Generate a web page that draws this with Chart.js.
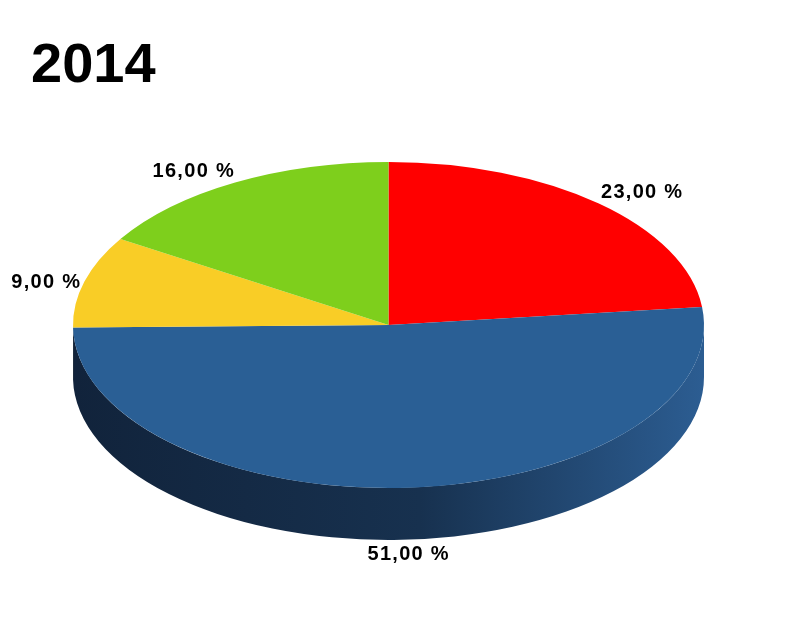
<!DOCTYPE html>
<html>
<head>
<meta charset="utf-8">
<script src="https://cdn.jsdelivr.net/npm/chart.js@4/dist/chart.umd.min.js"></script>
<style>
  body { margin: 0; background: #fff; }
  #wrap { width: 803px; height: 623px; }
</style>
</head>
<body>
<div id="wrap"><canvas id="myChart"></canvas></div>
<script>
const categories = ['Rot', 'Blau', 'Gelb', 'Grün'];
const values = [23, 51, 9, 16];
const colors = ['#ff0000', '#2a5f95', '#f9cd26', '#7ecf1c'];
const sideColors = ['#990000', null, '#a88a18', '#4f8a10'];

// ellipse of the top face and the height of the side wall
const pieX = 388.5, pieY = 325, radX = 315.5, radY = 163, depth = 52;

// -1..1 with a small dead zone round 0
function side(v, dead, span) {
    return Math.sign(v) * Math.max(0, Math.min(1, (Math.abs(v) - dead) / span));
}

const pie3d = {
    id: 'pie3d',
    beforeDatasetsDraw(chart) {
        const ctx = chart.ctx;
        const arcs = chart.getDatasetMeta(0).data;
        const grad = ctx.createLinearGradient(pieX - radX, 0, pieX + radX, 0);
        grad.addColorStop(0, '#11233b');
        grad.addColorStop(0.55, '#17314f');
        grad.addColorStop(1, '#2c5d92');
        arcs.forEach((el, i) => {
            const a1 = Math.max(el.startAngle, 0);
            const a2 = Math.min(el.endAngle, Math.PI);
            if (a1 >= a2) return;
            ctx.beginPath();
            ctx.ellipse(pieX, pieY, radX, radY, 0, a1, a2, false);
            ctx.ellipse(pieX, pieY + depth, radX, radY, 0, a2, a1, true);
            ctx.closePath();
            ctx.fillStyle = sideColors[i] || grad;
            ctx.fill();
        });
        const a = arcs[0];
        ctx.save();
        ctx.translate(pieX, pieY);
        ctx.scale(radX / a.outerRadius, radY / a.outerRadius);
        ctx.translate(-a.x, -a.y);
    },
    afterDatasetsDraw(chart) {
        chart.ctx.restore();
    },
    afterDraw(chart) {
        const ctx = chart.ctx;
        const arcs = chart.getDatasetMeta(0).data;
        ctx.save();
        ctx.font = 'bold 20px "Liberation Sans", Arial, sans-serif';
        ctx.letterSpacing = '1.3px';
        ctx.fillStyle = '#000';
        ctx.textAlign = 'center';
        ctx.textBaseline = 'alphabetic';
        const h = 14;
        arcs.forEach((el, i) => {
            const txt = values[i].toFixed(2).replace('.', ',') + ' %';
            const w = ctx.measureText(txt).width;
            const mid = (el.startAngle + el.endAngle) / 2;
            const c = Math.cos(mid), s = Math.sin(mid);
            const px = pieX + 1.01 * radX * c;
            const py = pieY + 1.02 * radY * s + (s > 0 ? depth : 0);
            const x = px + side(c, 0.1, 0.4) * w / 2;
            const y = py + side(s, 0.3, 0.4) * (h / 2 + 3);
            ctx.fillText(txt, x, y + h / 2);
        });
        ctx.restore();
    }
};

const ctx = document.getElementById('myChart').getContext('2d');
const myChart = new Chart(ctx, {
    type: 'pie',
    data: {
        labels: categories,
        datasets: [{
            data: values,
            backgroundColor: colors,
            borderWidth: 0,
            clip: false
        }]
    },
    options: {
        responsive: true,
        maintainAspectRatio: false,
        animation: false,
        events: [],
        layout: { padding: { left: 31, top: 0, right: 20, bottom: 20 } },
        plugins: {
            legend: { display: false },
            tooltip: { enabled: false },
            title: {
                display: true,
                text: '2014',
                align: 'start',
                color: '#000',
                font: { family: '"Liberation Sans", Arial, sans-serif', size: 56, weight: 'bold' },
                padding: { top: 33, bottom: 20 }
            }
        }
    },
    plugins: [pie3d]
});
</script>
</body>
</html>
